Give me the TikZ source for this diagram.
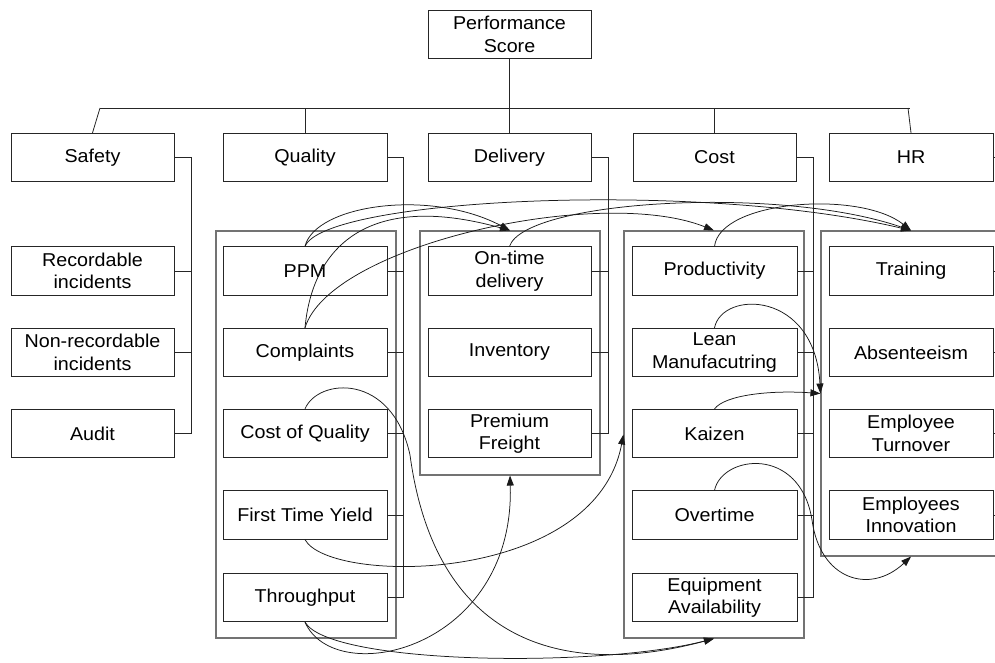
\documentclass[tikz,border=0pt]{standalone}
\usepackage{fontspec}
\setmainfont{Liberation Sans}[FakeStretch=1.06]
\usetikzlibrary{arrows.meta}
\begin{document}
\begin{tikzpicture}[x=1pt,y=-1pt,
  box/.style={draw=black!85,line width=0.8pt,minimum width=164pt,minimum height=48.5pt,inner sep=0pt,align=center,font=\fontsize{18.6}{22.6}\selectfont},
  grp/.style={draw=black!55,line width=1.1pt,inner sep=0pt,minimum width=180pt},
  tree/.style={draw=black!85,line width=0.8pt},
  link/.style={draw=black!90,line width=0.75pt,-{Triangle[length=10pt,width=7pt]}}]
\useasboundingbox (0,0) rectangle (995,662);
% groups
\node[grp,minimum height=407pt] (qgrp) at (306,434.5) {};
\node[grp,minimum height=244pt] (dgrp) at (510,353) {};
\node[grp,minimum height=407pt] (cgrp) at (714,434.5) {};
\node[grp,minimum width=190pt,minimum height=325pt] (hgrp) at (916,393.5) {};
% top
\node[box,minimum width=163pt] (ps) at (509.5,34.5) {Performance\\Score};
\node[box,minimum width=163pt] (safety) at (92.5,157.5) {Safety};
\node[box] (quality) at (305,157.5) {Quality};
\node[box,minimum width=163pt] (delivery) at (509.5,157.5) {Delivery};
\node[box,minimum width=163pt] (cost) at (714.5,157.5) {Cost};
\node[box] (hr) at (911,157.5) {HR};
% safety
\node[box,minimum width=163pt] (rec) at (92.5,271) {Recordable\\incidents};
\node[box,minimum width=163pt] (nonrec) at (92.5,352.5) {Non-recordable\\incidents};
\node[box,minimum width=163pt] (audit) at (92.5,433.5) {Audit};
% quality
\node[box] (ppm) at (305,271) {PPM};
\node[box] (compl) at (305,352.5) {Complaints};
\node[box] (coq) at (305,433.5) {Cost of Quality};
\node[box] (fty) at (305,515) {First Time Yield};
\node[box] (thru) at (305,597.5) {Throughput};
% delivery
\node[box,minimum width=163pt] (ontime) at (509.5,271) {On-time\\delivery};
\node[box,minimum width=163pt] (inv) at (509.5,352.5) {Inventory};
\node[box,minimum width=163pt] (prem) at (509.5,433.5) {Premium\\Freight};
% cost
\node[box,minimum width=165pt] (prod) at (714.5,271) {Productivity};
\node[box,minimum width=165pt] (lean) at (714.5,352.5) {Lean\\Manufacutring};
\node[box,minimum width=165pt] (kaizen) at (714.5,433.5) {Kaizen};
\node[box,minimum width=165pt] (overtime) at (714.5,515) {Overtime};
\node[box,minimum width=165pt] (equip) at (714.5,597.5) {Equipment\\Availability};
% hr
\node[box] (train) at (911,271) {Training};
\node[box] (absent) at (911,352.5) {Absenteeism};
\node[box] (turn) at (911,433.5) {Employee\\Turnover};
\node[box] (innov) at (911,515) {Employees\\Innovation};
% top tree
\coordinate (tl) at (100,108);
\coordinate (tr) at (910,108);
\coordinate (hj) at (908,108);
\draw[tree] (tl) -- (tr);
\draw[tree] (ps.south) -- (delivery.north);
\draw[tree] (tl) -- (safety.north);
\draw[tree] (quality.north) -- (quality.north |- tl);
\draw[tree] (cost.north) -- (cost.north |- tl);
\draw[tree] (hj) -- (hr.north);
% buses
\coordinate (sbus) at (191,0);
\coordinate (qbus) at (403,0);
\coordinate (dbus) at (608,0);
\coordinate (cbus) at (813,0);
\coordinate (hbus) at (1000,0);
\draw[tree] (safety.east) -| (sbus |- audit.east) -- (audit.east);
\draw[tree] (rec.east) -- (rec.east -| sbus);
\draw[tree] (nonrec.east) -- (nonrec.east -| sbus);
\draw[tree] (quality.east) -| (qbus |- thru.east) -- (thru.east);
\foreach \n in {ppm,compl,coq,fty} \draw[tree] (\n.east) -- (\n.east -| qbus);
\draw[tree] (delivery.east) -| (dbus |- prem.east) -- (prem.east);
\foreach \n in {ontime,inv} \draw[tree] (\n.east) -- (\n.east -| dbus);
\draw[tree] (cost.east) -| (cbus |- equip.east) -- (equip.east);
\foreach \n in {prod,lean,kaizen,overtime} \draw[tree] (\n.east) -- (\n.east -| cbus);
\foreach \n in {hr,train,absent,turn,innov} \draw[tree] (\n.east) -- (\n.east -| hbus);
% link targets
\coordinate (htop) at (hgrp.north -| train.north);
\coordinate (hbot) at (hgrp.south -| innov.south);
% links
\draw[link] (ppm.north) .. controls (315,205) and (430,188) .. (dgrp.north);
\draw[link] (ppm.north) .. controls (325,198) and (700,180) .. (htop);
\draw[link] (compl.north) .. controls (312,250) and (365,190) .. (dgrp.north);
\draw[link] (compl.north) .. controls (330,245) and (600,185) .. (cgrp.north);
\draw[link] (ontime.north) .. controls (525,200) and (780,185) .. (htop);
\draw[link] (prod.north) .. controls (720,200) and (860,190) .. (htop);
\draw[link] (lean.north) .. controls (722,290) and (815,290) .. (hgrp.west);
\draw[link] (kaizen.north) .. controls (725,395) and (770,390) .. (hgrp.west);
\draw[link] (overtime.north) .. controls (722,455) and (800,445) .. (812,520) .. controls (820,580) and (870,595) .. (hbot);
\draw[link] (coq.north) .. controls (318,378) and (392,372) .. (410,455) .. controls (435,640) and (560,680) .. (cgrp.south);
\draw[link] (thru.south) .. controls (330,665) and (600,668) .. (cgrp.south);
\draw[link] (thru.south) .. controls (335,690) and (515,650) .. (dgrp.south);
\draw[link] (fty.south) .. controls (330,585) and (595,585) .. (cgrp.west);
\end{tikzpicture}
\end{document}
